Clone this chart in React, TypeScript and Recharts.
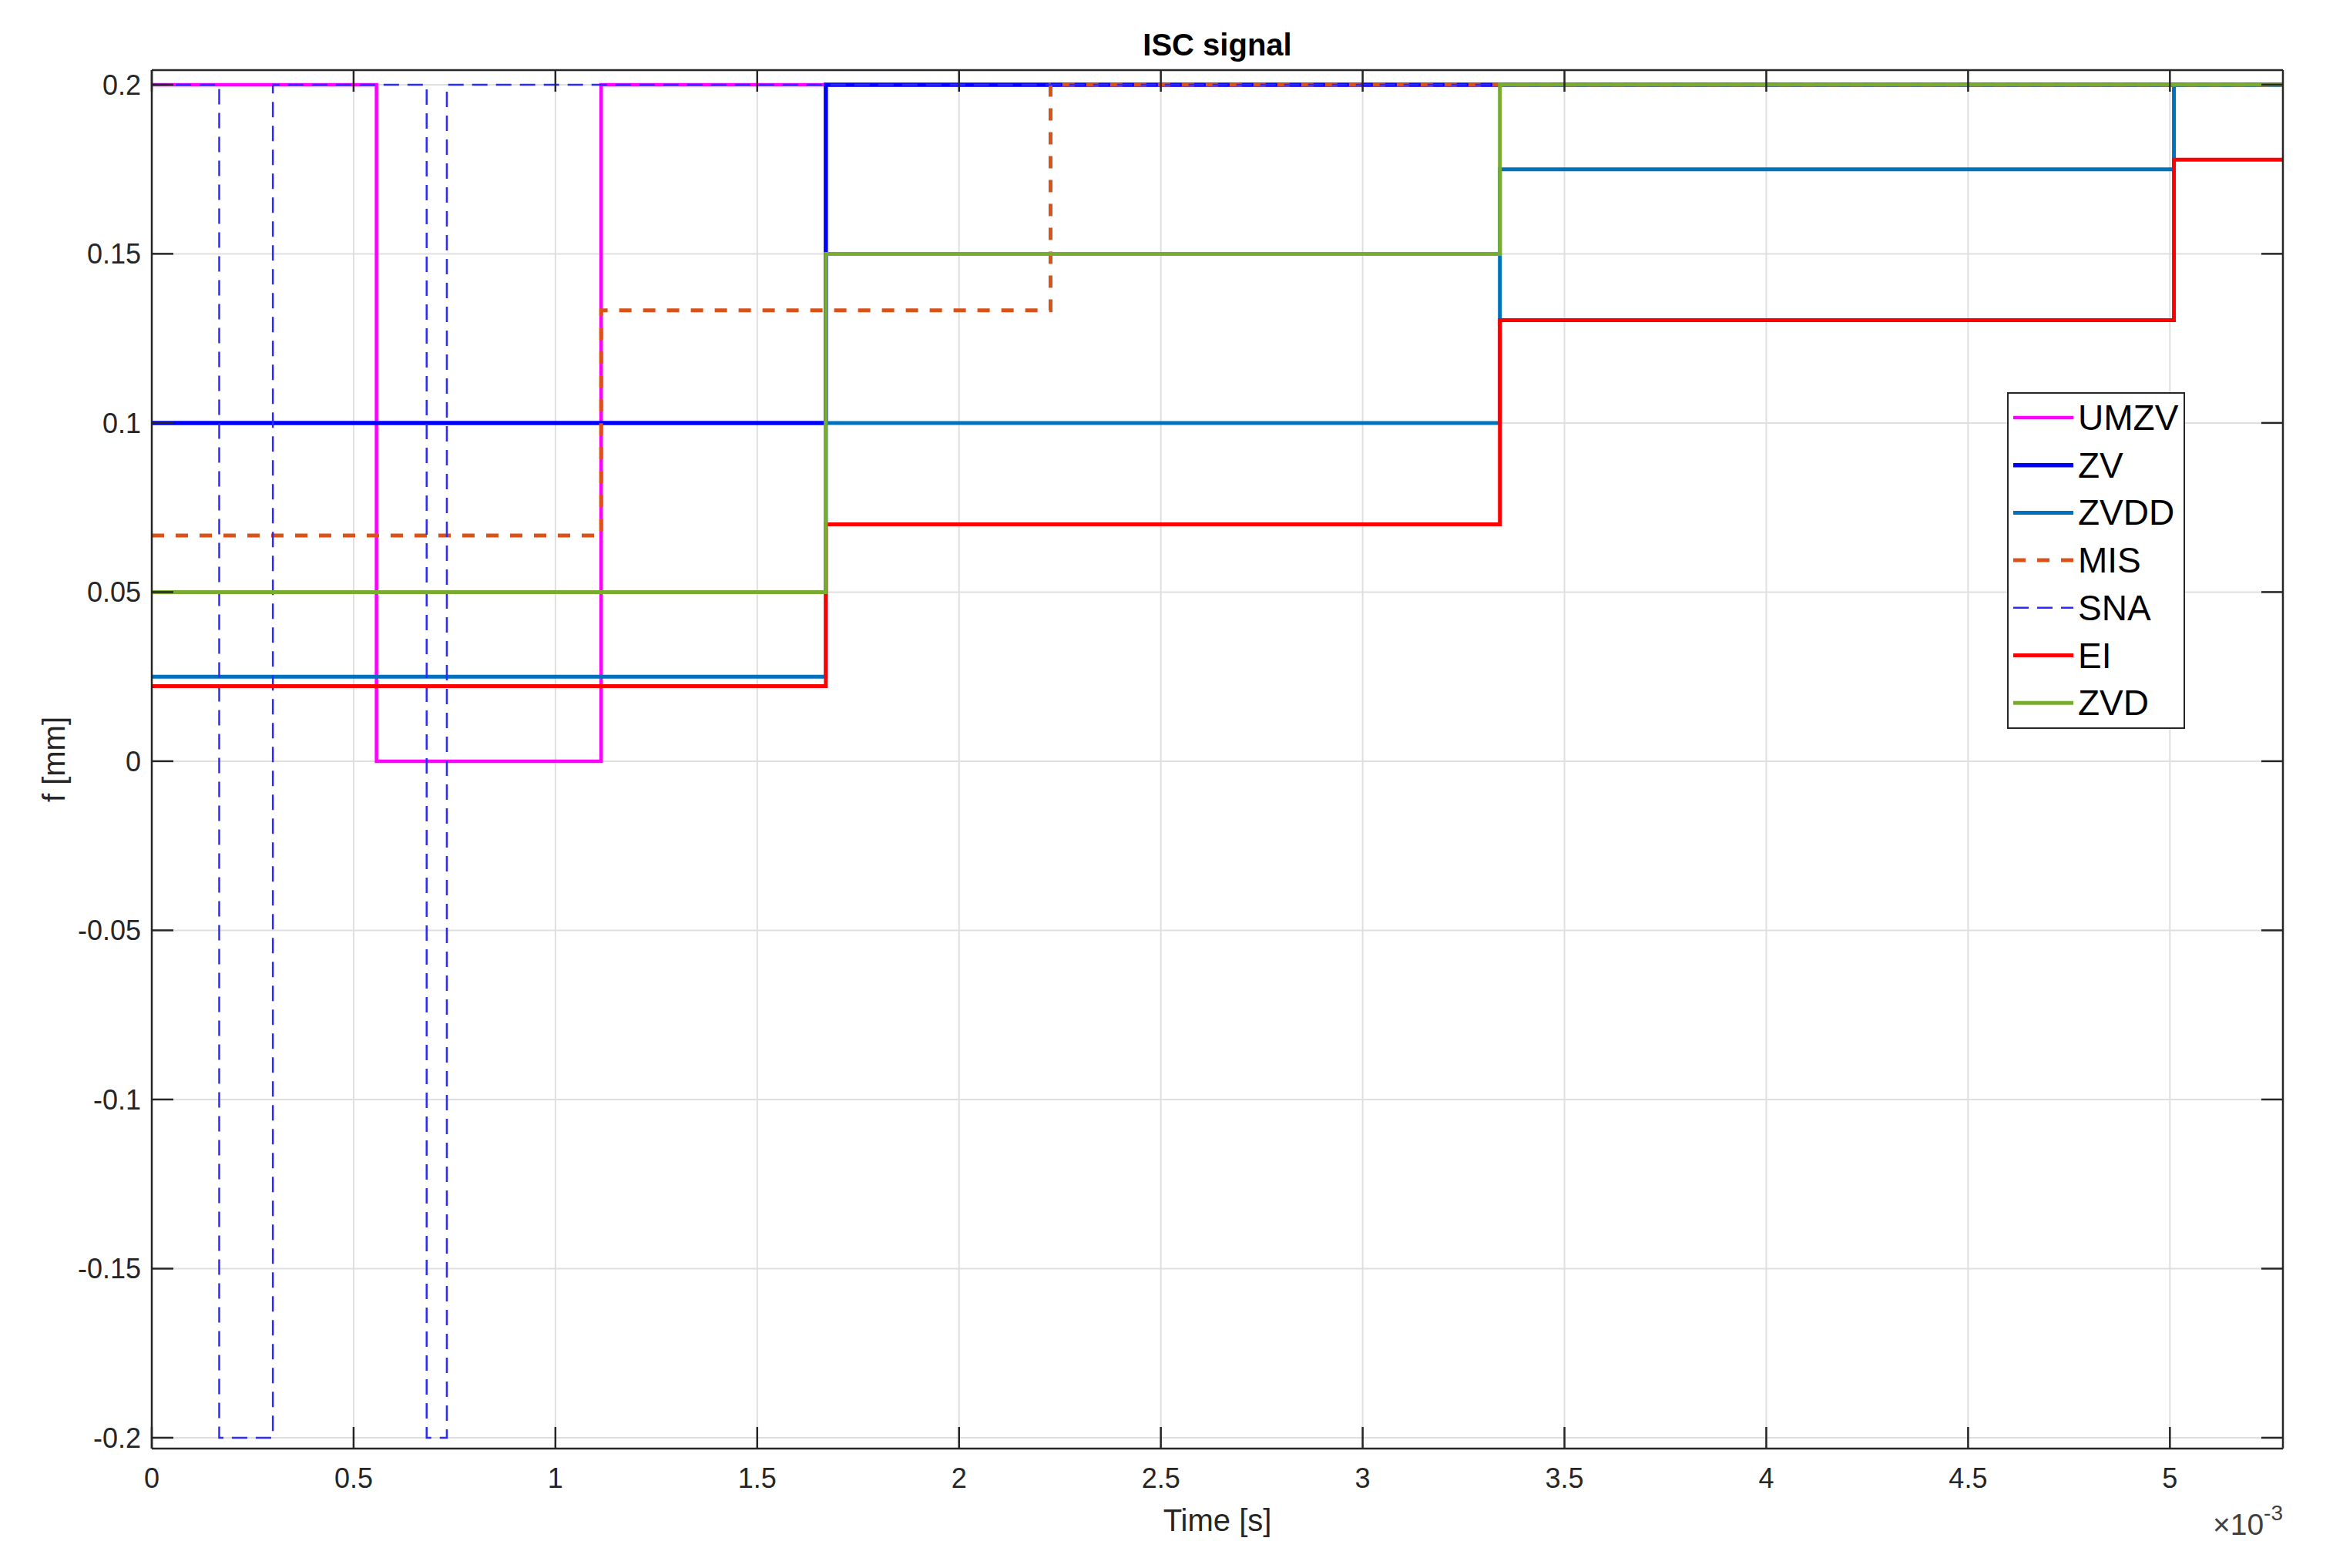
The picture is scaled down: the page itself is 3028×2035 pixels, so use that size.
import { LineChart, Line, XAxis, YAxis, CartesianGrid, Legend } from 'recharts';

// time axis is in ms (shown with a x10^-3 multiplier), force in mm
const X_MAX = 5.28;

const umzvTime = [0, 0.5567, 1.1133, X_MAX];
const umzvF = [0.2, 0, 0.2, 0.2];

const zvTime = [0, 1.67, X_MAX];
const zvF = [0.1, 0.2, 0.2];

const zvddTime = [0, 1.67, 3.34, 5.01, X_MAX];
const zvddF = [0.025, 0.1, 0.175, 0.2, 0.2];

const misTime = [0, 1.1133, 2.2267, X_MAX];
const misF = [0.0667, 0.1333, 0.2, 0.2];

const snaTime = [0, 0.167, 0.3, 0.681, 0.731, X_MAX];
const snaF = [0.2, -0.2, 0.2, -0.2, 0.2, 0.2];

const eiTime = [0, 1.67, 3.34, 5.01, X_MAX];
const eiF = [0.0222, 0.07, 0.1304, 0.1778, 0.1778];

const zvdTime = [0, 1.67, 3.34, X_MAX];
const zvdF = [0.05, 0.15, 0.2, 0.2];

const xTicks = [0, 0.5, 1, 1.5, 2, 2.5, 3, 3.5, 4, 4.5, 5];
const yTicks = [-0.2, -0.15, -0.1, -0.05, 0, 0.05, 0.1, 0.15, 0.2];

const toPoints = (t: number[], f: number[]) => t.map((v, i) => ({ t: v, f: f[i] }));

const SERIES = [
  { name: 'UMZV', data: toPoints(umzvTime, umzvF), color: '#FF00FF', width: 4.5, dash: undefined },
  { name: 'ZV', data: toPoints(zvTime, zvF), color: '#0000FF', width: 5.5, dash: undefined },
  { name: 'ZVDD', data: toPoints(zvddTime, zvddF), color: '#0072BD', width: 5, dash: undefined },
  { name: 'MIS', data: toPoints(misTime, misF), color: '#D95319', width: 5, dash: '16 15' },
  { name: 'SNA', data: toPoints(snaTime, snaF), color: '#2B2BFF', width: 2.5, dash: '20 11' },
  { name: 'EI', data: toPoints(eiTime, eiF), color: '#FF0000', width: 5, dash: undefined },
  { name: 'ZVD', data: toPoints(zvdTime, zvdF), color: '#77AC30', width: 5, dash: undefined },
];

const FONT = '"Liberation Sans", Arial, Helvetica, sans-serif';
const INK = '#262626';
const TICK_LEN = 28;
const AXIS_W = 2.5;

function LeftTick(p: any) {
  return (
    <g>
      <line x1={p.x} y1={p.y} x2={p.x + TICK_LEN} y2={p.y} stroke={INK} strokeWidth={AXIS_W} />
      <text x={p.x - 14} y={p.y + 13} textAnchor="end" fontSize={36} fill={INK} fontFamily={FONT}>
        {String(p.payload.value)}
      </text>
    </g>
  );
}

function RightTick(p: any) {
  return <line x1={p.x} y1={p.y} x2={p.x - TICK_LEN} y2={p.y} stroke={INK} strokeWidth={AXIS_W} />;
}

function BottomTick(p: any) {
  return (
    <g>
      <line x1={p.x} y1={p.y} x2={p.x} y2={p.y - TICK_LEN} stroke={INK} strokeWidth={AXIS_W} />
      <text x={p.x} y={p.y + 51} textAnchor="middle" fontSize={36} fill={INK} fontFamily={FONT}>
        {String(p.payload.value)}
      </text>
    </g>
  );
}

function TopTick(p: any) {
  return <line x1={p.x} y1={p.y} x2={p.x} y2={p.y + TICK_LEN} stroke={INK} strokeWidth={AXIS_W} />;
}

function XLabel(props: any) {
  const { x, y, width } = props.viewBox;
  return (
    <g fontFamily={FONT}>
      <text x={x + width / 2} y={y + 107} textAnchor="middle" fontSize={40} fill={INK}>
        Time [s]
      </text>
      <text x={x + width} y={y + 112} textAnchor="end" fontSize={39} fill="#404040">
        ×10
        <tspan dy={-19} fontSize={28}>-3</tspan>
      </text>
    </g>
  );
}

function TitleLabel(props: any) {
  const { x, y, width } = props.viewBox;
  return (
    <text x={x + width / 2} y={y - 18} textAnchor="middle" fontSize={40} fontWeight="bold" fill="#000" fontFamily={FONT}>
      ISC signal
    </text>
  );
}

function YLabel(props: any) {
  const { y, height } = props.viewBox;
  const cx = 84;
  const cy = y + height / 2;
  return (
    <text x={cx} y={cy} transform={`rotate(-90, ${cx}, ${cy})`} textAnchor="middle" fontSize={40} fill={INK} fontFamily={FONT}>
      f [mm]
    </text>
  );
}

function LegendBox() {
  const W = 231;
  const H = 437;
  return (
    <svg width={W} height={H} style={{ display: 'block' }}>
      <rect x={1} y={1} width={W - 2} height={H - 2} fill="#fff" stroke={INK} strokeWidth={2} />
      {SERIES.map((s, i) => {
        const cy = 33 + i * 61.7;
        return (
          <g key={s.name}>
            <line x1={8} y1={cy} x2={86} y2={cy} stroke={s.color} strokeWidth={s.width} strokeDasharray={s.dash} />
            <text x={92} y={cy + 16} fontSize={46} fill="#000" fontFamily={FONT}>
              {s.name}
            </text>
          </g>
        );
      })}
    </svg>
  );
}

export default function App() {
  return (
    <div style={{ position: 'absolute', left: 0, top: 0, background: '#fff' }}>
      <LineChart width={3028} height={2035} margin={{ top: 90, right: 64, bottom: 115, left: 196 }}>
        <CartesianGrid xAxisId="b" yAxisId="l" stroke="#dfdfdf" strokeWidth={2} />
        <XAxis
          xAxisId="b"
          dataKey="t"
          type="number"
          domain={[0, X_MAX]}
          ticks={xTicks}
          allowDataOverflow
          height={40}
          tickSize={0}
          tickMargin={0}
          tickLine={false}
          axisLine={{ stroke: INK, strokeWidth: AXIS_W }}
          tick={(p: any) => <BottomTick {...p} />}
          label={<XLabel />}
        />
        <XAxis
          xAxisId="t"
          orientation="top"
          dataKey="t"
          type="number"
          domain={[0, X_MAX]}
          ticks={xTicks}
          allowDataOverflow
          height={1}
          tickSize={0}
          tickMargin={0}
          tickLine={false}
          axisLine={{ stroke: INK, strokeWidth: AXIS_W }}
          tick={(p: any) => <TopTick {...p} />}
          label={<TitleLabel />}
        />
        <YAxis
          yAxisId="l"
          type="number"
          domain={[-0.2032, 0.2043]}
          ticks={yTicks}
          allowDataOverflow
          width={1}
          tickSize={0}
          tickMargin={0}
          tickLine={false}
          axisLine={{ stroke: INK, strokeWidth: AXIS_W }}
          tick={(p: any) => <LeftTick {...p} />}
          label={<YLabel />}
        />
        <YAxis
          yAxisId="r"
          orientation="right"
          type="number"
          domain={[-0.2032, 0.2043]}
          ticks={yTicks}
          allowDataOverflow
          width={1}
          tickSize={0}
          tickMargin={0}
          tickLine={false}
          axisLine={{ stroke: INK, strokeWidth: AXIS_W }}
          tick={(p: any) => <RightTick {...p} />}
        />
        {SERIES.map((s) => (
          <Line
            key={s.name}
            xAxisId="b"
            yAxisId="l"
            data={s.data}
            dataKey="f"
            name={s.name}
            type="stepAfter"
            stroke={s.color}
            strokeWidth={s.width}
            strokeDasharray={s.dash}
            dot={false}
            activeDot={false}
            isAnimationActive={false}
          />
        ))}
        <Legend
          layout="vertical"
          align="center"
          verticalAlign="middle"
          content={() => <LegendBox />}
          wrapperStyle={{ left: 2605, top: 509, width: 231, height: 437 }}
        />
      </LineChart>
    </div>
  );
}
